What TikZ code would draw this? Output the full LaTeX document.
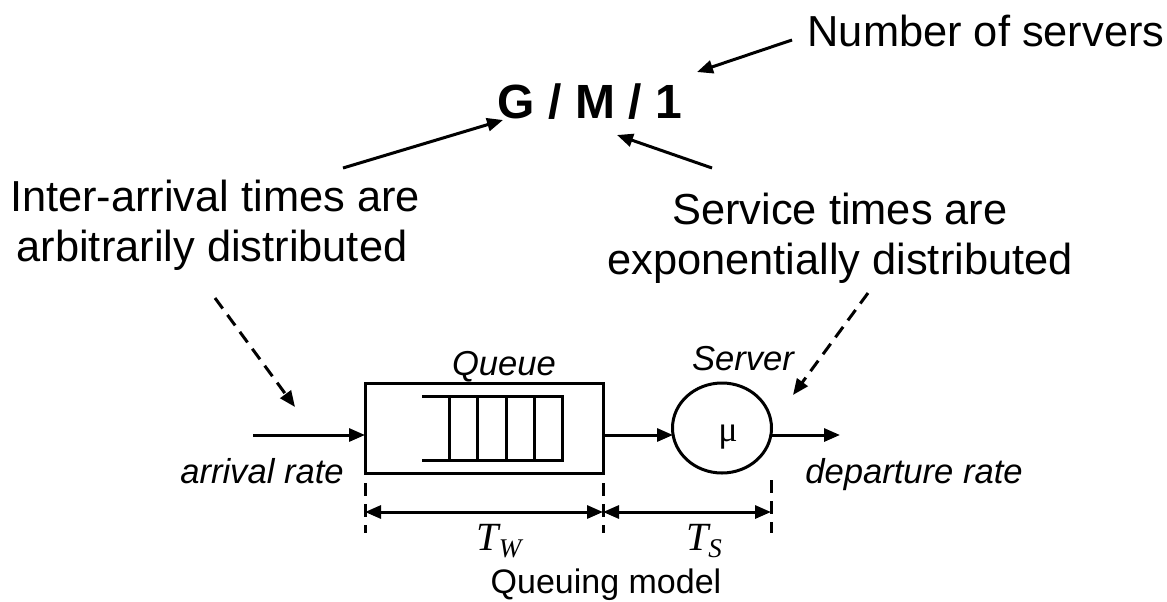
\documentclass[tikz,border=0pt]{standalone}
\usepackage{fontspec}
\setmainfont{Liberation Sans}
\newfontfamily\serifface{Liberation Serif}
\usetikzlibrary{arrows.meta,shapes.geometric}
\newcommand{\tsub}[2]{#1\raisebox{-0.18em}{\fontsize{13.5}{14}\selectfont #2}}
\begin{document}
\begin{tikzpicture}[x=0.5pt,y=-0.5pt,line width=1.5pt,
  tip/.tip={Triangle[length=8pt,width=6.5pt]},
  arr/.style={-tip},
  dimarr/.style={tip-tip},
  dsh/.style={dash pattern=on 6.5pt off 4pt},
  big/.style={font=\fontsize{21.7}{26}\selectfont,inner sep=0pt,anchor=base},
  ital/.style={font=\fontsize{17.3}{21}\selectfont\itshape,inner sep=0pt,anchor=base},
  small/.style={font=\fontsize{17}{20}\selectfont,inner sep=0pt,anchor=base},
  tlabel/.style={font=\fontsize{20}{24}\selectfont\serifface\itshape,inner sep=0pt,anchor=base}]
\useasboundingbox (0,0) rectangle (1167,601);

% titles
\node[font=\fontsize{24}{28}\selectfont\bfseries,inner sep=0pt,anchor=base] (gm1) at (590,118) {G / M / 1};
\node[big] (ns) at (986,46) {Number of servers};
\node[big] (ia1) at (215,211) {Inter-arrival times are};
\node[big] (ia2) at (212,261) {arbitrarily distributed};
\node[big] (st1) at (840,224) {Service times are};
\node[big] (st2) at (840,274) {exponentially distributed};

\coordinate (nsA) at (792,40);
\coordinate (nsB) at (697,72);
\coordinate (iaA) at (343,168);
\coordinate (iaB) at (503,120);
\coordinate (stA) at (712,168);
\coordinate (stB) at (617,135);
\draw[arr] (nsA) -- (nsB);
\draw[arr] (iaA) -- (iaB);
\draw[arr] (stA) -- (stB);

% queue
\node[draw,rectangle,minimum width=119pt,minimum height=45pt,inner sep=0pt] (q) at (484,428) {};
\draw (422,396) -- (562,396) -- (562,460) -- (422,460);
\foreach \x in {449,477,506,534} \draw (\x,396) -- (\x,460);
\node[ital] (qlab) at (504,375) {Queue};

% server
\node[draw,ellipse,minimum width=49.5pt,minimum height=45pt,inner sep=0pt] (s) at (722,428) {};
\node[font=\fontsize{18}{22}\selectfont\serifface,inner sep=0pt,anchor=base] (mu) at (728,441) {μ};
\node[ital] (slab) at (743,370) {Server};

% flow
\coordinate (in) at (253,435);
\coordinate (qin) at (365,435);
\coordinate (qout) at (603,435);
\coordinate (sin) at (673,435);
\coordinate (sout) at (772,435);
\coordinate (out) at (840,435);
\draw[arr] (in) -- (qin);
\draw[arr] (qout) -- (sin);
\draw[arr] (sout) -- (out);
\node[ital] (arr) at (262,483) {arrival rate};
\node[ital] (dep) at (914,483) {departure rate};

% dashed pointers
\coordinate (dlA) at (215,298);
\coordinate (dlB) at (295,407);
\coordinate (drA) at (868,293);
\coordinate (drB) at (793,395);
\draw[arr,dsh] (dlA) -- (dlB);
\draw[arr,dsh] (drA) -- (drB);

% dimensions
\coordinate (v1a) at (365,483); \coordinate (v1b) at (365,533);
\coordinate (v2a) at (603,483); \coordinate (v2b) at (603,533);
\coordinate (v3a) at (771,480); \coordinate (v3b) at (771,533);
\draw[dsh] (v1a) -- (v1b);
\draw[dsh] (v2a) -- (v2b);
\draw[dsh] (v3a) -- (v3b);
\coordinate (d1) at (365,512); \coordinate (d2) at (603,512); \coordinate (d3) at (771,512);
\draw[dimarr] (d1) -- (d2);
\draw[dimarr] (d2) -- (d3);
\node[tlabel] (tw) at (499,550) {\tsub{T}{W}};
\node[tlabel] (ts) at (704,550) {\tsub{T}{S}};
\node[small] (qm) at (606,593) {Queuing model};
\end{tikzpicture}
\end{document}
